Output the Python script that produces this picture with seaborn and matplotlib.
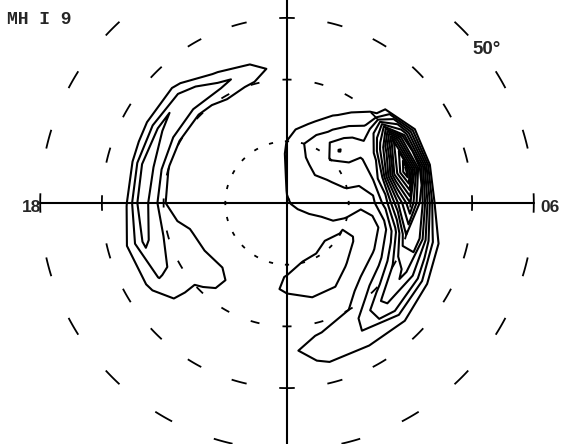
import numpy as np
import matplotlib
matplotlib.use("Agg")
import matplotlib.pyplot as plt
import seaborn as sns

# grid: magnetic local time (hours) x colatitude (deg from pole)
mlt_hours = list(range(24))
colat_deg = [0, 2, 4, 6, 8, 10, 12, 14, 16, 18, 20, 22, 24, 26, 28, 30]

# values, one row per MLT hour
intensity = [
    [0.9, 0.6, 0.4, 0.3, 0.4, 0.7, 1.05, 1.1, 0.8, 0.4, 0.4, 0.6, 0.75, 0.5, 0.1, 0],   # 00
    [0.9, 0.6, 0.4, 0.4, 0.5, 1.05, 1.3, 1.2, 0.98, 0.5, 0.4, 1.1, 1.6, 1.2, 0.6, 0],   # 01
    [0.9, 0.6, 0.5, 0.5, 0.6, 1.15, 1.35, 1.25, 0.95, 0.5, 1.0, 1.7, 1.95, 1.3, 0.4, 0], # 02
    [0.9, 0.6, 0.6, 0.7, 0.9, 1.2, 1.3, 0.95, 0.6, 1.5, 2.6, 4.2, 3.8, 1.6, 0.4, 0],    # 03
    [0.9, 1.0, 0.9, 0.7, 0.7, 1.02, 1.1, 0.6, 0.95, 2.2, 4.2, 5.3, 3.6, 1.1, 0.2, 0],   # 04
    [0.9, 1.2, 1.3, 1.25, 1.2, 0.95, 0.6, 0.4, 1.3, 3.5, 7.0, 6.5, 2.5, 0.4, 0, 0],     # 05
    [0.9, 1.3, 1.5, 1.5, 1.5, 1.4, 1.2, 1.8, 3.5, 7.0, 10.0, 6.0, 0.8, 0, 0, 0],        # 06
    [0.9, 1.3, 1.5, 1.6, 1.8, 2.05, 2.1, 2.4, 5.0, 11.0, 15.0, 8.0, 0.9, 0, 0, 0],      # 07
    [0.9, 1.3, 1.5, 1.7, 2.1, 2.4, 2.7, 2.95, 3.6, 7.0, 12.0, 6.0, 0.8, 0, 0, 0],       # 08
    [0.9, 1.3, 1.6, 1.9, 2.4, 3.05, 4.1, 3.4, 2.6, 1.9, 1.2, 0.5, 0, 0, 0, 0],          # 09
    [0.9, 1.2, 1.4, 1.7, 2.2, 2.6, 2.4, 1.8, 1.15, 0.5, 0.1, 0, 0, 0, 0, 0],            # 10
    [0.9, 1.15, 1.3, 1.5, 1.8, 1.95, 1.5, 0.7, 0.2, 0, 0, 0, 0, 0, 0, 0],               # 11
    [0.9, 1.05, 1.08, 1.1, 1.1, 1.02, 0.6, 0.2, 0.1, 0.2, 0.4, 0.3, 0.1, 0, 0, 0],      # 12
    [0.9, 0.7, 0.6, 0.5, 0.5, 0.4, 0.3, 0.2, 0.3, 0.5, 0.9, 1.5, 0.7, 0.2, 0, 0],       # 13
    [0.9, 0.6, 0.5, 0.4, 0.3, 0.3, 0.2, 0.2, 0.3, 0.5, 1.2, 2.3, 1.05, 0.3, 0, 0],      # 14
    [0.9, 0.5, 0.4, 0.3, 0.2, 0.2, 0.2, 0.2, 0.3, 0.5, 0.8, 2.4, 2.8, 1.2, 0.1, 0],     # 15
    [0.9, 0.5, 0.4, 0.3, 0.2, 0.2, 0.2, 0.2, 0.3, 0.5, 0.9, 2.6, 3.2, 1.1, 0.1, 0],     # 16
    [0.9, 0.5, 0.4, 0.3, 0.2, 0.2, 0.2, 0.2, 0.3, 0.5, 1.02, 2.9, 3.4, 0.9, 0.1, 0],    # 17
    [0.9, 0.5, 0.4, 0.3, 0.2, 0.2, 0.2, 0.2, 0.3, 0.5, 1.1, 2.9, 3.3, 0.95, 0.1, 0],    # 18
    [0.9, 0.5, 0.4, 0.3, 0.2, 0.2, 0.3, 0.4, 0.95, 1.3, 1.6, 2.7, 3.2, 1.6, 0.2, 0],    # 19
    [0.9, 0.5, 0.4, 0.3, 0.2, 0.2, 0.3, 0.5, 1.2, 1.4, 1.5, 1.9, 2.05, 1.2, 0.1, 0],    # 20
    [0.9, 0.5, 0.4, 0.3, 0.2, 0.3, 0.5, 0.8, 1.3, 1.25, 0.85, 0.7, 0.5, 0.2, 0, 0],     # 21
    [0.9, 0.5, 0.4, 0.3, 0.3, 0.4, 0.5, 0.6, 0.6, 0.5, 0.3, 0.2, 0.1, 0, 0, 0],         # 22
    [0.9, 0.5, 0.4, 0.3, 0.4, 0.5, 0.7, 0.8, 0.6, 0.4, 0.2, 0.2, 0.2, 0.1, 0, 0],       # 23
]
contour_levels = list(range(1, 15))

# latitude rings (deg) and the fraction of each hour covered by a dash
ring_lats = [80, 70, 60, 50]
ring_dash = [0.26, 0.28, 0.32, 0.30]

sns.set_theme(style="white")

fig = plt.figure(figsize=(5.61, 4.44), dpi=100)
fig.set_facecolor("white")

# pole at (287, 203) px, 6.17 px per degree, axes reach 42 deg colatitude
cx, cy, ppd, rmax = 287, 203, 6.17, 42
rad = rmax * ppd
ax = fig.add_axes([(cx - rad) / 561, (444 - cy - rad) / 444, 2 * rad / 561, 2 * rad / 444],
                  projection="polar")
ax.set_theta_offset(-np.pi / 2)   # midnight at bottom, noon at top
ax.set_ylim(0, rmax)
ax.grid(False)
ax.set_xticks([])
ax.set_yticks([])
ax.spines["polar"].set_visible(False)
ax.patch.set_alpha(0)

def hour_to_rad(h):
    return np.deg2rad(np.asarray(h, dtype=float) * 15.0)

# contours
theta = hour_to_rad(mlt_hours + [24])
z = np.array(intensity + [intensity[0]])
T, R = np.meshgrid(theta, colat_deg, indexing="ij")
ax.contour(T, R, z, levels=contour_levels, colors="black", linewidths=1.5)

# dashed latitude rings, one dash centred on each hour
for lat, frac in zip(ring_lats, ring_dash):
    for h in mlt_hours:
        th = hour_to_rad(np.linspace(h - frac / 2, h + frac / 2, 10))
        ax.plot(th, np.full_like(th, 90 - lat), color="black", lw=1.3, solid_capstyle="butt")

# noon-midnight and dawn-dusk axes
for h, r_end in [(0, rmax), (12, rmax), (6, 40), (18, 40)]:
    ax.plot(hour_to_rad([h, h]), [0, r_end], color="black", lw=1.5)

fig.text(7 / 561, 1 - 19 / 444, "MH I 9", family="Liberation Mono", weight="bold",
         fontsize=13, va="center", ha="left")
fig.text(472 / 561, 1 - 50 / 444, "50°", family="Liberation Sans", weight="bold",
         fontsize=13.5, va="center", ha="left")
fig.text(41 / 561, 1 - 207 / 444, "18", family="Liberation Sans", weight="bold",
         fontsize=12.5, va="center", ha="right")
fig.text(540 / 561, 1 - 207 / 444, "06", family="Liberation Sans", weight="bold",
         fontsize=12.5, va="center", ha="left")

fig.savefig("out.png", dpi=100)
